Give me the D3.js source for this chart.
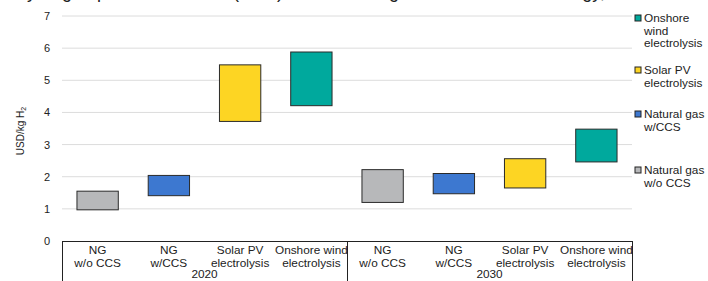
<!DOCTYPE html>
<html>
<head>
<meta charset="utf-8">
<script src="https://cdn.jsdelivr.net/npm/d3@7"></script>
<style>
  body { margin: 0; background: #fff; }
  svg { display: block; font-family: "Liberation Sans", Arial, sans-serif; }
</style>
</head>
<body>
<svg id="chart"></svg>
<script>
// data
var years = ["2020", "2030"];
var techs = ["NG\nw/o CCS", "NG\nw/CCS", "Solar PV\nelectrolysis", "Onshore wind\nelectrolysis"];
var lowValues = [0.97, 1.41, 3.72, 4.21, 1.20, 1.47, 1.65, 2.46];
var highValues = [1.55, 2.04, 5.48, 5.88, 2.22, 2.10, 2.56, 3.48];
var yTicks = [0, 1, 2, 3, 4, 5, 6, 7];
var legendNames = ["Onshore\nwind\nelectrolysis", "Solar PV\nelectrolysis", "Natural gas\nw/CCS", "Natural gas\nw/o CCS"];
var colors = ["#b7b8ba", "#3d78d0", "#fdd523", "#00a99d"];

var width = 708, height = 281;
var margin = { top: 16, right: 76, bottom: 40, left: 62 };

var svg = d3.select("#chart").attr("width", width).attr("height", height);

var x = d3.scaleBand()
  .domain(d3.range(lowValues.length))
  .range([margin.left, width - margin.right])
  .paddingInner(0.42)
  .paddingOuter(0.21);

var y = d3.scaleLinear().domain([0, 7]).range([height - margin.bottom, margin.top]);

// title, mostly cut off by the top edge as in the source
svg.append("text")
  .attr("x", 372)
  .attr("y", -2.5)
  .attr("text-anchor", "middle")
  .attr("font-size", 18)
  .attr("fill", "#222")
  .text("Hydrogen production costs (USD) from natural gas and renewable energy, 2020 and 2030");

// gridlines
svg.append("g")
  .selectAll("line")
  .data(yTicks.filter(d => d > 0))
  .join("line")
  .attr("x1", margin.left)
  .attr("x2", width - margin.right)
  .attr("y1", d => y(d))
  .attr("y2", d => y(d))
  .attr("stroke", "#dcdcdc")
  .attr("stroke-width", 1);

// y axis labels
svg.append("g")
  .selectAll("text")
  .data(yTicks)
  .join("text")
  .attr("x", 50)
  .attr("y", d => y(d) + 4)
  .attr("text-anchor", "end")
  .attr("font-size", 11)
  .attr("fill", "#222")
  .text(d => d);

var ylab = svg.append("text")
  .attr("transform", "translate(24," + 131 + ") rotate(-90)")
  .attr("text-anchor", "middle")
  .attr("font-size", 10)
  .attr("fill", "#222");
ylab.append("tspan").text("USD/kg H");
ylab.append("tspan").attr("font-size", 7).attr("dy", 2).text("2");

// floating bars
svg.append("g")
  .selectAll("rect")
  .data(lowValues)
  .join("rect")
  .attr("x", (d, i) => x(i))
  .attr("width", x.bandwidth())
  .attr("y", (d, i) => y(highValues[i]))
  .attr("height", (d, i) => y(d) - y(highValues[i]))
  .attr("fill", (d, i) => colors[i % 4])
  .attr("stroke", "#2a2a2a")
  .attr("stroke-width", 1);

// category axis box
var x0 = margin.left, x1 = width - margin.right, yb = y(0);
var mid = (x0 + x1) / 2;
var axis = svg.append("g").attr("stroke", "#222").attr("stroke-width", 1);
axis.append("line").attr("x1", x0).attr("x2", x1).attr("y1", yb + 0.5).attr("y2", yb + 0.5);
[x0, mid, x1].forEach(function (xx) {
  axis.append("line").attr("x1", xx + 0.5).attr("x2", xx + 0.5).attr("y1", yb).attr("y2", height);
});

var step = (x1 - x0) / lowValues.length;
var catLabels = svg.append("g")
  .selectAll("text")
  .data(d3.range(lowValues.length))
  .join("text")
  .attr("text-anchor", "middle")
  .attr("font-size", 11.8)
  .attr("fill", "#222");
catLabels.each(function (i) {
  var lines = techs[i % 4].split("\n");
  var t = d3.select(this);
  lines.forEach(function (l, k) {
    t.append("tspan")
      .attr("x", x0 + step * (i + 0.5))
      .attr("y", yb + 13 + k * 13)
      .text(l);
  });
});

svg.append("g")
  .selectAll("text")
  .data(years)
  .join("text")
  .attr("x", (d, i) => x0 + (x1 - x0) / 4 * (2 * i + 1))
  .attr("y", yb + 37)
  .attr("text-anchor", "middle")
  .attr("font-size", 11.8)
  .attr("fill", "#222")
  .text(d => d);

// legend
var legendY = [22, 74, 118, 174];
var legendColors = [colors[3], colors[2], colors[1], colors[0]];
var leg = svg.append("g")
  .selectAll("g")
  .data(legendNames)
  .join("g")
  .attr("transform", (d, i) => "translate(635," + legendY[i] + ")");
leg.append("rect")
  .attr("x", 0).attr("y", -7)
  .attr("width", 6).attr("height", 6)
  .attr("fill", (d, i) => legendColors[i])
  .attr("stroke", "#222").attr("stroke-width", 1);
leg.append("text")
  .attr("font-size", 11.8)
  .attr("fill", "#222")
  .each(function (d) {
    var t = d3.select(this);
    d.split("\n").forEach(function (l, k) {
      t.append("tspan").attr("x", 9).attr("y", k * 12.5).text(l);
    });
  });
</script>
</body>
</html>
